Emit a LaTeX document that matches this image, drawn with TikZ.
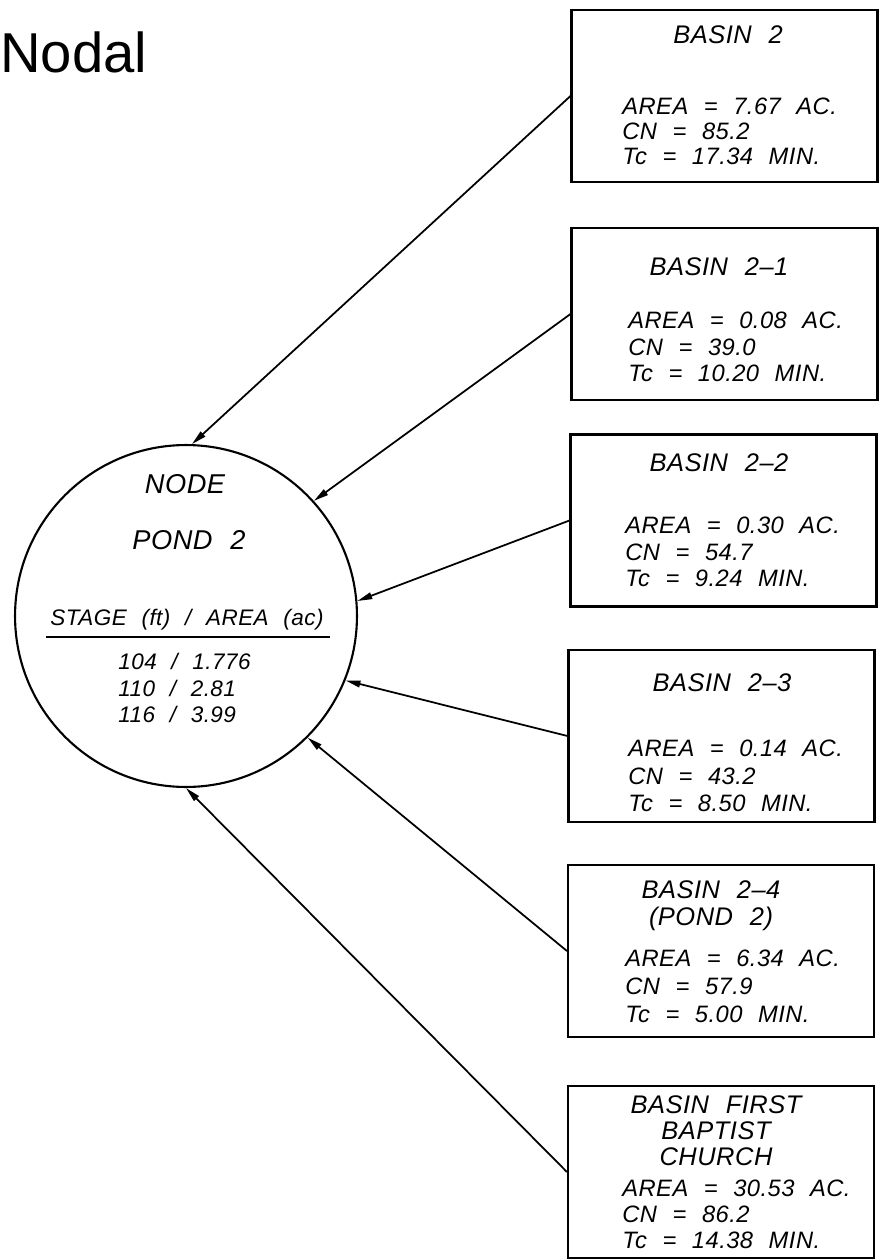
\documentclass[tikz,border=0pt]{standalone}
\usepackage{fontspec}
\newfontfamily\cadfont[LetterSpace=2,WordSpace=2.2]{Liberation Sans}
\usetikzlibrary{arrows.meta,positioning}

\begin{document}
\begin{tikzpicture}[
			x=0.02cm,y=-0.02cm,
			basin/.style={
				draw,
				line width=1.2pt,
				minimum width=6.12cm,
				minimum height=3.44cm,
				inner sep=0pt
			},
			pondnode/.style={draw,circle,line width=1.2pt,minimum size=6.84cm,inner sep=0pt},
			title/.style={align=center,inner sep=0pt,font=\cadfont\itshape\fontsize{14.5}{16}\selectfont},
			data/.style={align=left,inner sep=0pt,anchor=west,font=\cadfont\itshape\fontsize{13.5}{15}\selectfont},
			big/.style={inner sep=0pt,font=\cadfont\itshape\fontsize{15.5}{17}\selectfont},
			flow/.style={-{Triangle[length=8.5pt,width=3.8pt]},line width=1pt}
			]
			\useasboundingbox (0,0) rectangle (879,1260);
			
			\node[anchor=west,inner sep=0pt,font=\fontspec{Liberation Sans}\fontsize{32}{34}\selectfont] (note) at (0,52) {Nodal};
			
			% pond node
			\node[pondnode] (pond) at (186,616) {};
			\node[big] (nodetxt) at (185,484) {NODE};
			\node[big] (pondtxt) at (189,540) {POND 2};
			\node[title,font=\cadfont\itshape\fontsize{12.8}{14}\selectfont] (stage) at (187,620) {STAGE (ft) / AREA (ac)};
			\draw[line width=1.2pt] (46,637) -- (330,637);
			\node[data,font=\cadfont\itshape\fontsize{12.8}{14}\selectfont,
				execute at begin node={\setlength{\baselineskip}{15.3pt}}] (levels) at (118,688)
				{104 / 1.776\\110 / 2.81\\116 / 3.99};
			
			% basins
			\node[basin] (b1) at (724.5,96) {};
			\node[title] (t1) at (728,35) {BASIN 2};
			\node[data,execute at begin node={\setlength{\baselineskip}{14.2pt}}] (d1) at (622,131)
				{AREA = 7.67 AC.\\CN = 85.2\\Tc = 17.34 MIN.};
			
			\node[basin] (b2) at (724.5,314) {};
			\node[title] (t2) at (719,267) {BASIN 2–1};
			\node[data] (d2) at (628,347) {AREA = 0.08 AC.\\CN = 39.0\\Tc = 10.20 MIN.};
			
			\node[basin] (b3) at (723.5,520.5) {};
			\node[title] (t3) at (719,463) {BASIN 2–2};
			\node[data] (d3) at (625,552) {AREA = 0.30 AC.\\CN = 54.7\\Tc = 9.24 MIN.};
			
			\node[basin] (b4) at (721.5,736) {};
			\node[title] (t4) at (722,683) {BASIN 2–3};
			\node[data,execute at begin node={\setlength{\baselineskip}{15.6pt}}] (d4) at (628,776)
				{AREA = 0.14 AC.\\CN = 43.2\\Tc = 8.50 MIN.};
			
			\node[basin] (b5) at (721,951) {};
			\node[title,execute at begin node={\setlength{\baselineskip}{15.3pt}}] (t5) at (711,906) {BASIN 2–4\\(POND 2)};
			\node[data,execute at begin node={\setlength{\baselineskip}{15.9pt}}] (d5) at (625,986)
				{AREA = 6.34 AC.\\CN = 57.9\\Tc = 5.00 MIN.};
			
			\node[basin] (b6) at (721,1172) {};
			\node[title,execute at begin node={\setlength{\baselineskip}{14.7pt}}] (t6) at (716,1131) {BASIN FIRST\\BAPTIST\\CHURCH};
			\node[data,execute at begin node={\setlength{\baselineskip}{14.7pt}}] (d6) at (622,1214)
				{AREA = 30.53 AC.\\CN = 86.2\\Tc = 14.38 MIN.};
			
			\draw[flow] (b1.west) -- (pond.88);
			\draw[flow] (b2.west) -- (pond.42);
			\draw[flow] (b3.west) -- (pond.5);
			\draw[flow] (b4.west) -- (pond.-22);
			\draw[flow] (b5.west) -- (pond.-45);
			\draw[flow] (b6.west) -- (pond.-90);
			
		\end{tikzpicture}
\end{document}
